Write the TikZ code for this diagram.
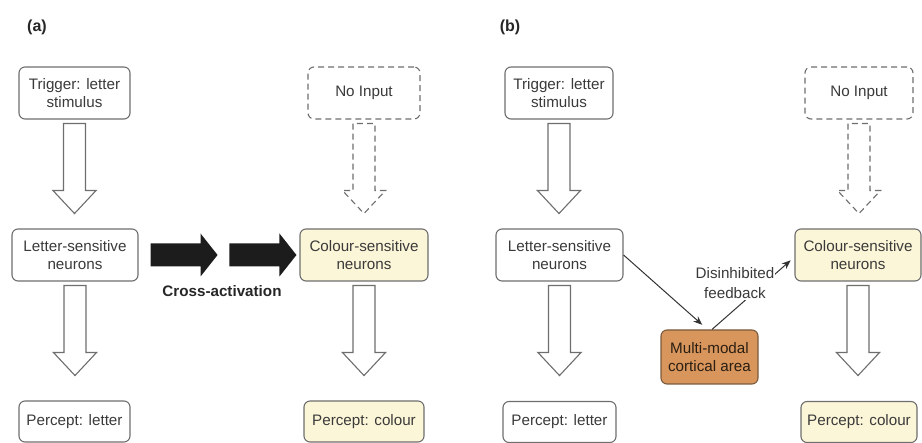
\documentclass[tikz,border=0pt]{standalone}
\usepackage{fontspec}
\setmainfont{Liberation Sans}
\usetikzlibrary{calc,arrows.meta}
\definecolor{txt}{HTML}{3A3A3A}
\definecolor{bord}{HTML}{6E6E6E}
\definecolor{yel}{HTML}{FCF6D8}
\definecolor{orng}{HTML}{D8965C}
\definecolor{orbord}{HTML}{7A5A3C}
\definecolor{blk}{HTML}{1C1C1C}
\tikzset{
  box/.style={draw=bord, line width=1.1pt, rounded corners=6pt, fill=white,
    align=center, text=txt, inner sep=0pt,
    font=\fontsize{15.2}{18}\selectfont},
  dbox/.style={box, dash pattern=on 6pt off 4pt},
  ybox/.style={box, fill=yel},
  obox/.style={box, fill=orng, draw=orbord, text=black!80!orng},
  blkarrow/.style={draw=bord, line width=1.1pt, fill=white, line join=miter},
  dblkarrow/.style={blkarrow, dash pattern=on 6pt off 4pt},
  cross/.style={fill=blk, draw=none},
  thin arrow/.style={draw=black!80, line width=1pt, -{Stealth[length=9pt,width=7pt]}},
  lbl/.style={text=txt, align=center, font=\fontsize{15.2}{20}\selectfont},
  panel/.style={font=\fontsize{16}{18}\selectfont\bfseries, text=black!85}
}
% hollow block arrow pointing down, starting under node #2
\newcommand\downblk[2]{%
  \draw[#1] ($(#2.south)+(-11,4)$) -- ++(0,67) -- ++(-10.5,0) -- ++(21.5,23)
    -- ++(21.5,-23) -- ++(-10.5,0) -- ++(0,-67) -- cycle;}
% solid block arrow pointing right, starting at coordinate #1
\newcommand\rightblk[1]{%
  \fill[blk] ($#1+(0,-11.5)$) -- ++(50,0) -- ++(0,-10) -- ++(17,21.5)
    -- ++(-17,21.5) -- ++(0,-10) -- ++(-50,0) -- cycle;}
\begin{document}
\begin{tikzpicture}[x=1pt,y=-1pt]
\useasboundingbox (0,0) rectangle (922,443);

% ---------- panel (a)
\node[panel] (pa) at (37,27) {(a)};
\node[box, minimum width=111pt, minimum height=52pt] (trigA) at (74.5,93) {Trigger: letter\\stimulus};
\node[dbox, minimum width=112pt, minimum height=52pt] (noinA) at (364,93) {No Input};
\node[box, minimum width=126pt, minimum height=52pt] (letA) at (75,255) {Letter-sensitive\\neurons};
\node[ybox, minimum width=128pt, minimum height=52pt] (colA) at (364,255) {Colour-sensitive\\neurons};
\node[box, minimum width=111pt, minimum height=41pt] (perA) at (74.5,421.5) {Percept: letter};
\node[ybox, minimum width=120pt, minimum height=41pt] (pcolA) at (364,421.5) {Percept: colour};

\downblk{blkarrow}{trigA}
\downblk{dblkarrow}{noinA}
\downblk{blkarrow}{letA}
\downblk{blkarrow}{colA}

\coordinate (ca1) at ($(letA.east)+(12,0)$);
\coordinate (ca2) at ($(colA.west)+(-70,0)$);
\rightblk{(ca1)}
\rightblk{(ca2)}
\node[lbl, font=\fontsize{15.2}{18}\selectfont\bfseries, text=black!85] (cross) at (222,291) {Cross-activation};

% ---------- panel (b)
\node[panel] (pb) at (510,27) {(b)};
\node[box, minimum width=108pt, minimum height=52pt] (trigB) at (559,93) {Trigger: letter\\stimulus};
\node[dbox, minimum width=108pt, minimum height=52pt] (noinB) at (859,93) {No Input};
\node[box, minimum width=127pt, minimum height=52pt] (letB) at (559.5,255) {Letter-sensitive\\neurons};
\node[ybox, minimum width=126pt, minimum height=52pt] (colB) at (858,255) {Colour-sensitive\\neurons};
\node[box, minimum width=113pt, minimum height=41pt] (perB) at (559.5,422) {Percept: letter};
\node[ybox, minimum width=116pt, minimum height=41pt] (pcolB) at (859,422) {Percept: colour};
\node[obox, minimum width=97pt, minimum height=54pt] (mm) at (709.5,357) {Multi-modal\\cortical area};

\downblk{blkarrow}{trigB}
\downblk{dblkarrow}{noinB}
\downblk{blkarrow}{letB}
\downblk{blkarrow}{colB}

\draw[thin arrow, shorten >=7pt] (letB.east) -- ($(mm.north)+(-2,0)$);
\draw[thin arrow, shorten >=5pt] ($(mm.north)+(2.5,0)$) -- ($(colB.west)+(0,2)$);
\node[lbl, fill=white, inner sep=1pt] (fb) at (735,283) {Disinhibited\\feedback};
\end{tikzpicture}
\end{document}
